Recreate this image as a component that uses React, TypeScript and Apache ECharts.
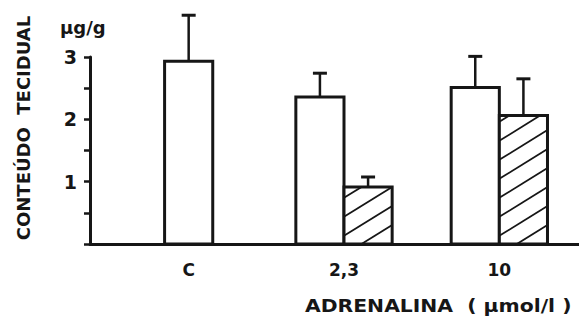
import React, { useEffect, useRef } from "react";
import * as echarts from "echarts";

const categories = ["C", "2,3", "10"];
const openValues = [2.93, 2.36, 2.51];
const openErrors = [0.74, 0.38, 0.5];
const hatchedValues: (number | null)[] = [null, 0.915, 2.06];
const hatchedErrors: (number | null)[] = [null, 0.16, 0.59];
const yTicks = [0, 0.5, 1, 1.5, 2, 2.5, 3];

const FONT = "'DejaVu Sans', 'Open Sans', sans-serif";
const INK = "#161616";

export default function App() {
  const ref = useRef<HTMLDivElement>(null);
  useEffect(() => {
    if (!ref.current) return;
    const chart = echarts.init(ref.current, null, { renderer: "svg" });

    const data: number[][] = [];
    categories.forEach((_, i) => {
      const paired = hatchedValues[i] != null ? 1 : 0;
      data.push([i, openValues[i], openErrors[i], 0, paired]);
      if (paired) data.push([i, hatchedValues[i] as number, hatchedErrors[i] as number, 1, 1]);
    });

    const renderItem = (params: any, api: any) => {
      const i = api.value(0);
      const v = api.value(1);
      const e = api.value(2);
      const kind = api.value(3);
      const paired = api.value(4);
      const slot = api.size([1, 0])[0];
      const bw = slot * 0.31;
      const [cx, yTop] = api.coord([i, v]);
      const y0 = api.coord([i, 0])[1];
      const yErr = api.coord([i, v + e])[1];
      const left = paired ? (kind === 0 ? cx - bw : cx) : cx - bw / 2;
      const bx = left + bw / 2;
      const children: any[] = [
        {
          type: "rect",
          shape: { x: left, y: yTop, width: bw, height: y0 - yTop },
          style: { fill: "#fff", stroke: null },
        },
      ];
      if (kind === 1) {
        const s = 0.62;
        const spacing = 19;
        for (let c = y0 + s * bw; c >= yTop; c -= spacing) {
          const xs = Math.max(left, left + (c - y0) / s);
          const xe = Math.min(left + bw, left + (c - yTop) / s);
          if (xe > xs + 0.5) {
            children.push({
              type: "line",
              shape: { x1: xs, y1: c - s * (xs - left), x2: xe, y2: c - s * (xe - left) },
              style: { stroke: INK, lineWidth: 1.8 },
            });
          }
        }
      }
      children.push({
        type: "rect",
        shape: { x: left, y: yTop, width: bw, height: y0 - yTop },
        style: { fill: "none", stroke: INK, lineWidth: 3 },
      });
      children.push({
        type: "line",
        shape: { x1: bx, y1: yTop, x2: bx, y2: yErr },
        style: { stroke: INK, lineWidth: 2.5 },
      });
      children.push({
        type: "line",
        shape: { x1: bx - 7, y1: yErr, x2: bx + 7, y2: yErr },
        style: { stroke: INK, lineWidth: 3 },
      });
      return { type: "group", children };
    };

    chart.setOption({
      animation: false,
      backgroundColor: "#fff",
      grid: [
        { left: 90, right: 0, top: 57, bottom: 76 },
        { left: 111, right: 2, top: 57, bottom: 76 },
      ],
      xAxis: [
        {
          gridIndex: 0,
          type: "value",
          min: 0,
          max: 1,
          axisLine: { show: true, lineStyle: { color: INK, width: 3 } },
          axisTick: { show: false },
          axisLabel: { show: false },
          splitLine: { show: false },
        },
        {
          gridIndex: 1,
          type: "category",
          data: categories,
          axisLine: { show: false },
          axisTick: { show: false },
          axisLabel: {
            margin: 17,
            fontSize: 17,
            fontWeight: "bold",
            fontFamily: FONT,
            color: INK,
          },
        },
      ],
      yAxis: [
        {
          gridIndex: 0,
          type: "value",
          min: yTicks[0],
          max: yTicks[yTicks.length - 1],
          interval: yTicks[1] - yTicks[0],
          axisLine: { show: true, lineStyle: { color: INK, width: 3 } },
          axisTick: { show: true, length: 6, lineStyle: { color: INK, width: 2.5 } },
          axisLabel: {
            margin: 13,
            fontSize: 19,
            fontWeight: "bold",
            fontFamily: FONT,
            color: INK,
            formatter: (v: number) => (Number.isInteger(v) && v > 0 ? String(v) : ""),
          },
          splitLine: { show: false },
        },
        {
          gridIndex: 1,
          type: "value",
          min: yTicks[0],
          max: yTicks[yTicks.length - 1],
          show: false,
        },
      ],
      graphic: [
        {
          type: "text",
          left: 60,
          top: 18,
          style: { text: "μg/g", fontSize: 18, fontWeight: "bold", fontFamily: FONT, fill: INK },
        },
        {
          type: "text",
          x: 23,
          y: 128,
          rotation: Math.PI / 2,
          style: {
            text: "CONTEÚDO  TECIDUAL",
            fontSize: 18,
            fontWeight: "bold",
            fontFamily: FONT,
            fill: INK,
            align: "center",
            verticalAlign: "middle",
          },
        },
        {
          type: "text",
          x: 305,
          y: 297,
          scaleX: 1.13,
          style: {
            text: "ADRENALINA  ( μmol/l )",
            fontSize: 18,
            fontWeight: "bold",
            fontFamily: FONT,
            fill: INK,
            align: "left",
            verticalAlign: "top",
          },
        },
      ],
      series: [
        {
          type: "custom",
          xAxisIndex: 1,
          yAxisIndex: 1,
          clip: false,
          renderItem,
          data,
        },
      ],
    });
    return () => chart.dispose();
  }, []);
  return (
    <div
      ref={ref}
      style={{ position: "absolute", left: 0, top: 0, width: 579, height: 320 }}
    />
  );
}
